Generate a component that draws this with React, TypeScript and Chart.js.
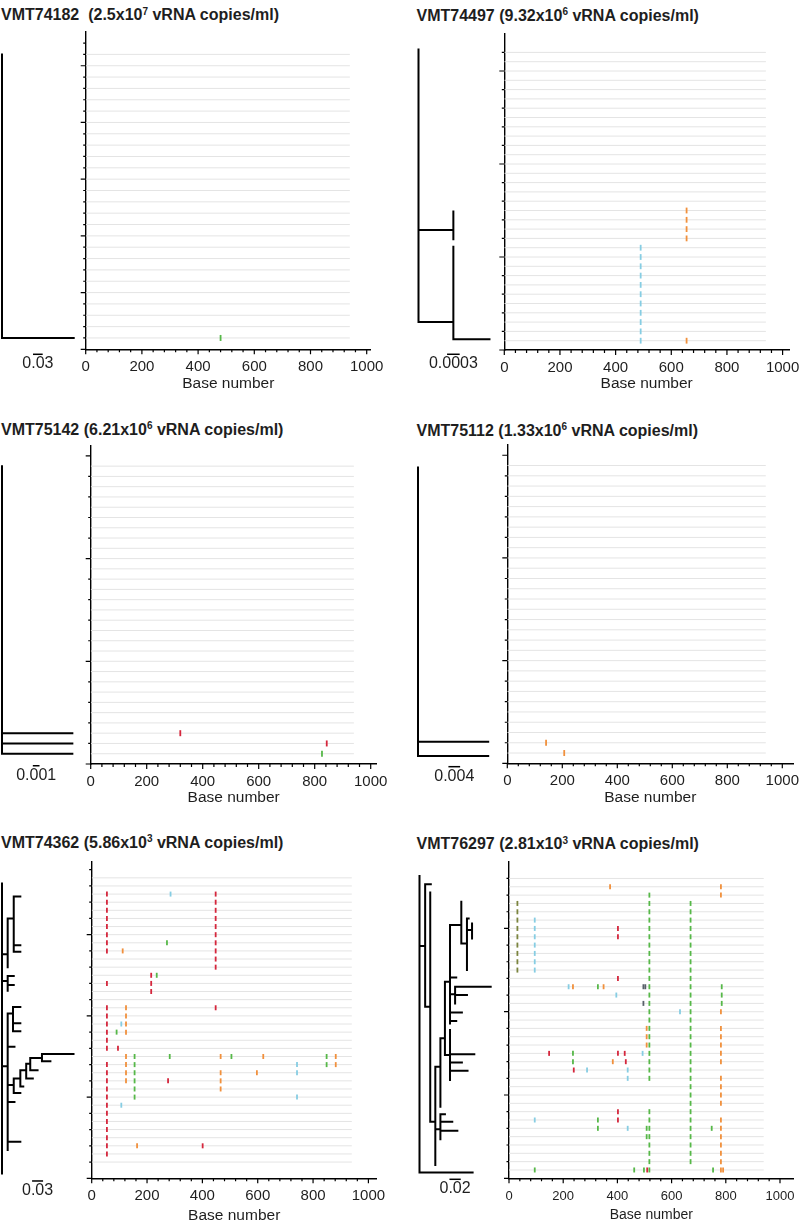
import React, { useEffect, useRef } from 'react';
import { Chart, registerables } from 'chart.js';

Chart.register(...registerables);

const FONT = '"Liberation Sans", Arial, Helvetica, sans-serif';
const INK = '#1e1e1e';

// ---- shared axis data ----
const SEQ_LENGTH = 940;
const X_TICK_STEP = 40;
const X_LABEL_STEP = 200;
const X_LABEL_MAX = 1000;
const X_AXIS_TITLE = 'Base number';

const BASE_COLORS: Record<string, string> = {
  A: '#56b848',
  C: '#86cde3',
  G: '#f1903c',
  T: '#d5263c',
  gap: '#7b843e',
  N: '#58606a',
};

type Mark = [string, number, number[]]; // base, position, rows
type Seg = [number, number, number, number]; // x1 (distance), y1 (row), x2, y2

// ---- Panel 1: VMT74182 ----
const P1_TITLE = ['VMT74182  (2.5x10', '7', ' vRNA copies/ml)'];
const P1_ROWS = [1, 26];
const P1_MARKS: Mark[] = [['A', 480, [1]]];
const P1_TREE: Seg[] = [
  [0, 26, 0, 1],
  [0, 1, 0.222, 1],
];
const P1_SCALE = { len: 0.03, start: 0.096, row: -0.44, label: '0.03' };

// ---- Panel 2: VMT74497 ----
const P2_TITLE = ['VMT74497 (9.32x10', '6', ' vRNA copies/ml)'];
const P2_ROWS = [1, 32];
const P2_MARKS: Mark[] = [
  ['C', 490, [1, 2, 3, 4, 5, 6, 7, 8, 9, 10, 11]],
  ['G', 655, [12, 13, 14, 15, 1]],
];
const P2_TREE: Seg[] = [
  [0, 32.3, 0, 3.0],
  [0, 12.9, 0.00083, 12.9],
  [0.00083, 14.9, 0.00083, 11.9],
  [0, 3.0, 0.00083, 3.0],
  [0.00083, 11.1, 0.00083, 1.15],
  [0.00083, 1.15, 0.00169, 1.15],
];
const P2_SCALE = { len: 0.0003, start: 0.00068, row: -0.46, label: '0.0003' };

// ---- Panel 3: VMT75142 ----
const P3_TITLE = ['VMT75142 (6.21x10', '6', ' vRNA copies/ml)'];
const P3_ROWS = [1, 29];
const P3_MARKS: Mark[] = [
  ['T', 320, [3]],
  ['T', 843, [2]],
  ['A', 826, [1]],
];
const P3_TREE: Seg[] = [
  [0, 29, 0, 1],
  [0, 3, 0.0105, 3],
  [0, 2, 0.0105, 2],
  [0, 1, 0.0105, 1],
];
const P3_SCALE = { len: 0.001, start: 0.0046, row: -0.17, label: '0.001' };

// ---- Panel 4: VMT75112 ----
const P4_TITLE = ['VMT75112 (1.33x10', '6', ' vRNA copies/ml)'];
const P4_ROWS = [1, 29];
const P4_MARKS: Mark[] = [
  ['G', 141, [2]],
  ['G', 207, [1]],
];
const P4_TREE: Seg[] = [
  [0, 28.8, 0, 0.7],
  [0, 2.1, 0.024, 2.1],
  [0, 0.7, 0.024, 0.7],
];
const P4_SCALE = { len: 0.004, start: 0.0104, row: -0.33, label: '0.004' };

// ---- Panel 5: VMT74362 ----
const P5_TITLE = ['VMT74362 (5.86x10', '3', ' vRNA copies/ml)'];
const P5_ROWS = [2, 37];
const P5_MARKS: Mark[] = [
  ['T', 55, [35, 34, 33, 32, 31, 30, 29, 28, 24, 21, 20, 19, 18, 17, 16, 14, 13, 12, 11, 10, 9, 8, 7, 6, 5, 4, 3]],
  ['T', 448, [35, 34, 33, 32, 31, 30, 29, 28, 27, 26, 21]],
  ['T', 215, [25, 24, 23]],
  ['T', 95, [16]],
  ['T', 276, [12]],
  ['T', 401, [4]],
  ['A', 272, [29]],
  ['A', 235, [25]],
  ['A', 90, [18]],
  ['A', 155, [15, 14, 13, 12, 11, 10]],
  ['A', 282, [15]],
  ['A', 505, [15]],
  ['A', 849, [15, 14]],
  ['G', 112, [28]],
  ['G', 124, [21, 20, 19, 18, 15, 14, 13, 12]],
  ['G', 466, [15, 13, 12, 11]],
  ['G', 620, [15]],
  ['G', 882, [15, 14]],
  ['G', 597, [13]],
  ['G', 164, [4]],
  ['C', 285, [35]],
  ['C', 107, [19, 9]],
  ['C', 742, [14, 13, 10]],
];
const P5_TREE: Seg[] = [
  [0, 36.3, 0, 0.6],
  [0, 27.6, 0.0155, 27.6],
  [0.0155, 32.0, 0.0155, 26.0],
  [0.0155, 32.0, 0.032, 32.0],
  [0.032, 34.7, 0.032, 27.9],
  [0.032, 34.7, 0.05, 34.7],
  [0.032, 28.7, 0.05, 28.7],
  [0.032, 27.9, 0.05, 27.9],
  [0, 24.3, 0.0155, 24.3],
  [0.0155, 24.9, 0.0155, 23.1],
  [0.0155, 24.9, 0.032, 24.9],
  [0.0155, 23.8, 0.032, 23.8],
  [0, 13.8, 0.0155, 13.8],
  [0.0155, 20.3, 0.0155, 3.5],
  [0.0155, 20.3, 0.03, 20.3],
  [0.03, 21.1, 0.03, 18.1],
  [0.03, 21.1, 0.05, 21.1],
  [0.03, 19.1, 0.05, 19.1],
  [0.03, 18.1, 0.05, 18.1],
  [0.0155, 16.2, 0.034, 16.2],
  [0.0155, 11.5, 0.032, 11.5],
  [0.032, 12.3, 0.032, 10.5],
  [0.032, 10.5, 0.05, 10.5],
  [0.032, 12.3, 0.05, 12.3],
  [0.05, 13.3, 0.05, 11.3],
  [0.05, 11.3, 0.058, 11.3],
  [0.05, 13.3, 0.066, 13.3],
  [0.066, 14.1, 0.066, 12.3],
  [0.066, 12.3, 0.084, 12.3],
  [0.066, 14.1, 0.077, 14.1],
  [0.077, 14.8, 0.077, 13.3],
  [0.077, 13.3, 0.097, 13.3],
  [0.077, 14.8, 0.109, 14.8],
  [0.109, 15.3, 0.109, 14.4],
  [0.109, 15.3, 0.195, 15.3],
  [0.109, 14.4, 0.132, 14.4],
  [0.0155, 9.4, 0.034, 9.4],
  [0.0155, 4.5, 0.05, 4.5],
];
const P5_SCALE = { len: 0.03, start: 0.082, row: -0.33, label: '0.03' };

// ---- Panel 6: VMT76297 ----
const P6_TITLE = ['VMT76297 (2.81x10', '3', ' vRNA copies/ml)'];
const P6_ROWS = [1, 36];
const P6_MARKS: Mark[] = [
  ['A', 518, [34, 33, 32, 31, 30, 29, 28, 27, 26, 25, 24, 23, 22, 21, 20, 19, 18, 17, 16, 15, 14, 13, 12, 8, 7, 6, 5, 4, 3, 2, 1]],
  ['A', 670, [33, 32, 31, 30, 29, 28, 27, 26, 25, 24, 23, 22, 21, 20, 19, 18, 17, 16, 15, 14, 13, 12, 11, 10, 9, 8, 7, 6, 5, 4, 3, 2]],
  ['A', 785, [23, 22, 21]],
  ['A', 328, [23, 7, 6]],
  ['A', 236, [15, 14]],
  ['A', 508, [6, 5]],
  ['A', 748, [6]],
  ['A', 95, [1]],
  ['A', 462, [1]],
  ['A', 498, [1]],
  ['A', 753, [1]],
  ['T', 402, [30, 29, 24, 15, 8, 7]],
  ['T', 148, [15]],
  ['T', 427, [15]],
  ['T', 431, [14]],
  ['T', 239, [13]],
  ['T', 510, [1]],
  ['G', 373, [35]],
  ['G', 782, [35, 34, 20, 18, 17, 16, 15, 14, 12, 11, 10, 9, 7, 6, 5, 4, 3, 2, 1]],
  ['G', 790, [1]],
  ['G', 236, [23]],
  ['G', 349, [23]],
  ['G', 383, [14]],
  ['G', 508, [18, 17, 16]],
  ['C', 95, [31, 30, 29, 28, 27, 26, 25, 7]],
  ['C', 220, [23]],
  ['C', 396, [22]],
  ['C', 631, [20]],
  ['C', 493, [15]],
  ['C', 288, [13]],
  ['C', 438, [13, 12, 6]],
  ['gap', 31, [33, 32, 31, 30, 29, 28, 27, 26, 25]],
  ['N', 496, [23, 21]],
  ['N', 503, [23]],
];
const P6_TREE: Seg[] = [
  [0, 36.3, 0, 0.7],
  [0, 0.7, 0.094, 0.7],
  [0, 27.9, 0.01, 27.9],
  [0.01, 35.3, 0.01, 20.6],
  [0.01, 35.3, 0.02, 35.3],
  [0.01, 20.6, 0.019, 20.6],
  [0.019, 34.3, 0.019, 6.8],
  [0.019, 6.8, 0.028, 6.8],
  [0.028, 13.4, 0.028, 1.6],
  [0.028, 13.4, 0.037, 13.4],
  [0.037, 16.8, 0.037, 8.6],
  [0.037, 16.8, 0.045, 16.8],
  [0.045, 23.6, 0.045, 14.8],
  [0.045, 23.6, 0.054, 23.6],
  [0.054, 30.4, 0.054, 18.6],
  [0.054, 30.4, 0.074, 30.4],
  [0.074, 33.2, 0.074, 28.2],
  [0.074, 28.2, 0.084, 28.2],
  [0.084, 31.2, 0.084, 25.0],
  [0.084, 31.2, 0.087, 31.2],
  [0.084, 29.8, 0.093, 29.8],
  [0.093, 30.6, 0.093, 28.8],
  [0.054, 24.1, 0.065, 24.1],
  [0.054, 22.1, 0.063, 22.1],
  [0.063, 23.0, 0.063, 21.0],
  [0.063, 23.0, 0.126, 23.0],
  [0.063, 22.0, 0.084, 22.0],
  [0.054, 19.9, 0.075, 19.9],
  [0.054, 18.9, 0.065, 18.9],
  [0.045, 14.8, 0.054, 14.8],
  [0.054, 17.8, 0.054, 11.8],
  [0.054, 14.9, 0.097, 14.9],
  [0.054, 13.9, 0.075, 13.9],
  [0.054, 12.9, 0.085, 12.9],
  [0.028, 5.9, 0.037, 5.9],
  [0.037, 7.7, 0.037, 4.7],
  [0.037, 7.7, 0.045, 7.7],
  [0.037, 6.8, 0.058, 6.8],
  [0.037, 5.7, 0.067, 5.7],
];
const P6_SCALE = { len: 0.02, start: 0.053, row: -0.12, label: '0.02' };

// ---- layout of each panel (pixel geometry and styles) ----
const PANELS: any[] = [
  {
    title: P1_TITLE, rows: P1_ROWS, marks: P1_MARKS, tree: P1_TREE, scale: P1_SCALE,
    yMax: 28, yTickStep: 1, yTickMax: 27, yMajor: 5,
    titleX: 1, titleBase: 20.7, axisX: 85.7, axisTop: 31.7, axisBottom: 349.3, xPx: 0.281, xMax: 1015,
    rootX: 2, treePx: 323, markR: 3, tickFont: 15, titleFont: 15.5, labelOffset: 18, titleOffset: 34,
  },
  {
    title: P2_TITLE, rows: P2_ROWS, marks: P2_MARKS, tree: P2_TREE, scale: P2_SCALE,
    yMax: 34, yTickStep: 2, yTickMax: 32, yMajor: 10,
    titleX: 416.5, titleBase: 21, axisX: 504.3, axisTop: 33.8, axisBottom: 350, xPx: 0.2783, xMax: 1023,
    rootX: 418.5, treePx: 42000, markR: 2.9, tickFont: 15, titleFont: 15.5, labelOffset: 18, titleOffset: 34,
  },
  {
    title: P3_TITLE, rows: P3_ROWS, marks: P3_MARKS, tree: P3_TREE, scale: P3_SCALE,
    yMax: 31, yTickStep: 2, yTickMax: 30, yMajor: 10,
    titleX: 1, titleBase: 435, axisX: 90.7, axisTop: 445.6, axisBottom: 764, xPx: 0.28, xMax: 1021,
    rootX: 2, treePx: 6700, markR: 3, tickFont: 15, titleFont: 15.5, labelOffset: 18, titleOffset: 34,
  },
  {
    title: P4_TITLE, rows: P4_ROWS, marks: P4_MARKS, tree: P4_TREE, scale: P4_SCALE,
    yMax: 31, yTickStep: 2, yTickMax: 30, yMajor: 10,
    titleX: 416.5, titleBase: 436, axisX: 507.3, axisTop: 445, axisBottom: 763.3, xPx: 0.275, xMax: 1040,
    rootX: 418, treePx: 2925, markR: 3, tickFont: 15, titleFont: 15.5, labelOffset: 18, titleOffset: 34,
  },
  {
    title: P5_TITLE, rows: P5_ROWS, marks: P5_MARKS, tree: P5_TREE, scale: P5_SCALE,
    yMax: 39, yTickStep: 2, yTickMax: 38, yMajor: 10,
    titleX: 1, titleBase: 848.3, axisX: 91.7, axisTop: 861.6, axisBottom: 1178.3, xPx: 0.2767, xMax: 1030,
    rootX: 2, treePx: 366.7, markR: 2.5, tickFont: 15, titleFont: 15.5, labelOffset: 18, titleOffset: 37,
  },
  {
    title: P6_TITLE, rows: P6_ROWS, marks: P6_MARKS, tree: P6_TREE, scale: P6_SCALE,
    yMax: 38, yTickStep: 2, yTickMax: 36, yMajor: 10,
    titleX: 416.5, titleBase: 849.5, axisX: 509, axisTop: 861.8, axisBottom: 1178.3, xPx: 0.271, xMax: 1050,
    rootX: 419.5, treePx: 565, markR: 2.5, tickFont: 13, titleFont: 14, labelOffset: 18.4, titleOffset: 37,
  },
];

const TREE_CANVAS_W = 80;
const TREE_EXTRA_BOTTOM = 34;

function geometry(c: any) {
  const plotLeft = Math.round(c.axisX - 22);
  const plotTop = Math.floor(c.axisTop - 6);
  const leftW = c.axisX - plotLeft;
  const padTop = c.axisTop - plotTop;
  const areaW = c.xMax * c.xPx;
  const areaH = c.axisBottom - c.axisTop;
  const bottomH = c.titleOffset + c.titleFont * 0.6 + 1;
  const plotW = Math.ceil(leftW + areaW + 30);
  const padRight = plotW - leftW - areaW;
  const plotH = Math.ceil(padTop + areaH + bottomH);
  const xH = plotH - padTop - areaH;

  const treeLeft = Math.floor(c.rootX - 4);
  const treePadL = c.rootX - treeLeft;
  const treeTop = Math.floor(c.axisTop);
  const treePadT = c.axisTop - treeTop;
  const treeH = Math.ceil(treePadT + areaH + TREE_EXTRA_BOTTOM);
  const rowPx = areaH / c.yMax;
  const treeYMin = -(treeH - treePadT - areaH) / rowPx;
  const treeXMax = (TREE_CANVAS_W - treePadL) / c.treePx;
  return { plotLeft, plotTop, leftW, padTop, padRight, plotW, plotH, xH, treeLeft, treePadL, treeTop, treePadT, treeH, treeYMin, treeXMax };
}

const axisTickPlugin = {
  id: 'axisTicks',
  afterDraw(chart: any) {
    const ctx = chart.ctx;
    const xs = chart.scales.x;
    const ys = chart.scales.y;
    ctx.save();
    ctx.strokeStyle = '#000';
    ctx.lineWidth = 1.2;
    ctx.beginPath();
    xs.ticks.forEach((t: any) => {
      const px = xs.getPixelForValue(t.value);
      const len = t.major ? 5 : 3;
      ctx.moveTo(px, xs.top);
      ctx.lineTo(px, xs.top + len);
    });
    ys.ticks.forEach((t: any) => {
      const py = ys.getPixelForValue(t.value);
      const len = t.major ? 5 : 2.5;
      ctx.moveTo(ys.right, py);
      ctx.lineTo(ys.right - len, py);
    });
    ctx.stroke();
    ctx.restore();
  },
};

function scaleLabelPlugin(sb: any) {
  return {
    id: 'scaleLabel',
    afterDatasetsDraw(chart: any) {
      const ctx = chart.ctx;
      const xs = chart.scales.x;
      const ys = chart.scales.y;
      const cx = (xs.getPixelForValue(sb.start) + xs.getPixelForValue(sb.start + sb.len)) / 2;
      const by = ys.getPixelForValue(sb.row);
      ctx.save();
      ctx.font = `16px ${FONT}`;
      ctx.fillStyle = INK;
      ctx.textAlign = 'center';
      ctx.textBaseline = 'alphabetic';
      ctx.fillText(sb.label, cx, by + 14);
      ctx.restore();
    },
  };
}

function plotConfig(c: any, g: any): any {
  const rowData: any[] = [];
  for (let r = c.rows[0]; r <= c.rows[1]; r++) {
    rowData.push({ x: 0, y: r }, { x: SEQ_LENGTH, y: r }, { x: SEQ_LENGTH, y: null });
  }
  const byBase: Record<string, any[]> = {};
  c.marks.forEach(([b, pos, rows]: Mark) => {
    if (!byBase[b]) byBase[b] = [];
    rows.forEach((r) => byBase[b].push({ x: pos, y: r }));
  });
  const markSets = Object.keys(byBase).map((b) => ({
    label: b,
    data: byBase[b],
    showLine: false,
    pointStyle: 'line',
    pointRotation: 90,
    pointRadius: c.markR,
    pointBorderWidth: 1.8,
    pointBorderColor: BASE_COLORS[b],
    pointBackgroundColor: BASE_COLORS[b],
    borderColor: BASE_COLORS[b],
    clip: false,
    order: 1,
  }));
  return {
    type: 'scatter',
    data: {
      datasets: [
        {
          label: 'sequences',
          data: rowData,
          showLine: true,
          spanGaps: false,
          borderColor: '#e4e4e4',
          borderWidth: 1,
          pointRadius: 0,
          order: 5,
        },
        ...markSets,
      ],
    },
    options: {
      responsive: false,
      animation: false,
      events: [],
      devicePixelRatio: 1,
      layout: { padding: { left: 0, top: g.padTop, right: g.padRight, bottom: 0 } },
      plugins: { legend: { display: false }, tooltip: { enabled: false } },
      scales: {
        x: {
          type: 'linear',
          position: 'bottom',
          min: 0,
          max: c.xMax,
          afterBuildTicks: (s: any) => {
            const t: any[] = [];
            for (let v = 0; v <= X_LABEL_MAX; v += X_TICK_STEP) t.push({ value: v, major: v % X_LABEL_STEP === 0 });
            s.ticks = t;
          },
          afterFit: (s: any) => {
            s.height = g.xH;
          },
          grid: { drawOnChartArea: false, drawTicks: false },
          border: { display: true, color: '#000', width: 1.4 },
          ticks: {
            autoSkip: false,
            maxRotation: 0,
            minRotation: 0,
            padding: c.labelOffset - c.tickFont * 0.6,
            font: { family: FONT, size: c.tickFont },
            color: INK,
            callback: (v: any) => (Number(v) % X_LABEL_STEP === 0 ? String(v) : ''),
          },
          title: {
            display: true,
            text: X_AXIS_TITLE,
            font: { family: FONT, size: c.titleFont },
            color: INK,
            padding: { top: 0, bottom: g.xH - c.titleOffset - c.titleFont * 0.6 },
          },
        },
        y: {
          type: 'linear',
          position: 'left',
          min: 0,
          max: c.yMax,
          afterBuildTicks: (s: any) => {
            const t: any[] = [];
            for (let v = 0; v <= c.yTickMax; v += c.yTickStep) t.push({ value: v, major: v % c.yMajor === 0 });
            s.ticks = t;
          },
          afterFit: (s: any) => {
            s.width = g.leftW;
          },
          grid: { drawOnChartArea: false, drawTicks: false },
          border: { display: true, color: '#000', width: 1.4 },
          ticks: { display: false },
        },
      },
    },
    plugins: [axisTickPlugin],
  };
}

function treeConfig(c: any, g: any): any {
  const segData: any[] = [];
  c.tree.forEach(([x1, y1, x2, y2]: Seg) => {
    segData.push({ x: x1, y: y1 }, { x: x2, y: y2 }, { x: x2, y: null });
  });
  const sb = c.scale;
  return {
    type: 'scatter',
    data: {
      datasets: [
        {
          label: 'tree',
          data: segData,
          showLine: true,
          spanGaps: false,
          borderColor: '#000',
          borderWidth: 2,
          borderCapStyle: 'square',
          pointRadius: 0,
          clip: false,
        },
        {
          label: 'scale bar',
          data: [
            { x: sb.start, y: sb.row },
            { x: sb.start + sb.len, y: sb.row },
          ],
          showLine: true,
          borderColor: '#000',
          borderWidth: 1.5,
          pointRadius: 0,
          clip: false,
        },
      ],
    },
    options: {
      responsive: false,
      animation: false,
      events: [],
      devicePixelRatio: 1,
      layout: { padding: { left: g.treePadL, top: g.treePadT, right: 0, bottom: 0 } },
      plugins: { legend: { display: false }, tooltip: { enabled: false } },
      scales: {
        x: { type: 'linear', display: false, min: 0, max: g.treeXMax },
        y: { type: 'linear', display: false, min: g.treeYMin, max: c.yMax },
      },
    },
    plugins: [scaleLabelPlugin(sb)],
  };
}

function Panel({ cfg }: { cfg: any }) {
  const plotRef = useRef<HTMLCanvasElement>(null);
  const treeRef = useRef<HTMLCanvasElement>(null);
  const g = geometry(cfg);

  useEffect(() => {
    const plot = new Chart(plotRef.current as HTMLCanvasElement, plotConfig(cfg, g));
    const tree = new Chart(treeRef.current as HTMLCanvasElement, treeConfig(cfg, g));
    return () => {
      plot.destroy();
      tree.destroy();
    };
  }, []);

  return (
    <>
      <div
        style={{
          position: 'absolute',
          left: cfg.titleX,
          top: cfg.titleBase - 13.5,
          fontFamily: FONT,
          fontWeight: 'bold',
          fontSize: 16,
          lineHeight: '16px',
          whiteSpace: 'pre',
          color: INK,
        }}
      >
        {cfg.title[0]}
        <span style={{ fontSize: 10, position: 'relative', top: -5.5 }}>{cfg.title[1]}</span>
        {cfg.title[2]}
      </div>
      <canvas
        ref={treeRef}
        width={TREE_CANVAS_W}
        height={g.treeH}
        style={{ position: 'absolute', left: g.treeLeft, top: g.treeTop, width: TREE_CANVAS_W, height: g.treeH }}
      />
      <canvas
        ref={plotRef}
        width={g.plotW}
        height={g.plotH}
        style={{ position: 'absolute', left: g.plotLeft, top: g.plotTop, width: g.plotW, height: g.plotH }}
      />
    </>
  );
}

export default function App() {
  return (
    <div
      style={{
        position: 'absolute',
        left: 0,
        top: 0,
        width: 800,
        height: 1225,
        overflow: 'hidden',
        background: '#fff',
      }}
    >
      {PANELS.map((p, i) => (
        <Panel key={i} cfg={p} />
      ))}
    </div>
  );
}
